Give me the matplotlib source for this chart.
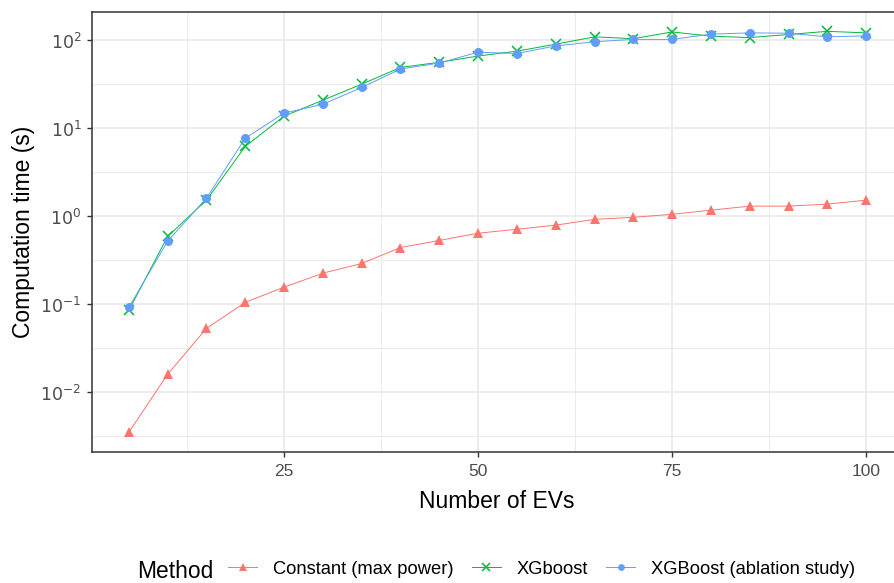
import numpy as np
import matplotlib.pyplot as plt
from matplotlib.ticker import FixedLocator, NullFormatter

plt.rcParams['font.family'] = ['Liberation Sans', 'DejaVu Sans']

# number of EVs
n_evs = [5, 10, 15, 20, 25, 30, 35, 40, 45, 50, 55, 60, 65, 70, 75, 80, 85, 90, 95, 100]

# computation time (s)
t_constant = [0.0035, 0.016, 0.053, 0.105, 0.156, 0.225, 0.29, 0.44, 0.53, 0.64,
              0.71, 0.79, 0.92, 0.97, 1.05, 1.17, 1.30, 1.30, 1.37, 1.52]
t_xgboost = [0.085, 0.59, 1.52, 6.2, 13.7, 20.8, 31.6, 49, 56, 66,
             75, 90, 109, 104, 124, 111, 107, 116, 126, 121]
t_ablation = [0.092, 0.52, 1.6, 7.7, 14.8, 18.7, 29, 47, 55, 73,
              70.5, 86, 96, 102, 102, 117, 121, 120, 109, 112]

labels = ['Constant (max power)', 'XGboost', 'XGBoost (ablation study)']
colors = ['#F8766D', '#00BA38', '#619CFF']

fig = plt.figure(figsize=(8.94, 5.83), dpi=100)
ax = fig.add_axes([92/894, 131/583, 811/894, 440/583])

ax.plot(n_evs, t_constant, color=colors[0], lw=0.7, marker='^', ms=7, mew=0, label=labels[0])
ax.plot(n_evs, t_xgboost, color=colors[1], lw=0.7, marker='x', ms=7, mew=1.1, label=labels[1])
ax.plot(n_evs, t_ablation, color=colors[2], lw=0.7, marker='o', ms=6.5, mew=0, label=labels[2])

ax.set_yscale('log')
ax.set_xlim(0.25, 104.75)
ax.set_ylim(10**-2.68, 10**2.32)

# grid like theme_bw
ax.set_xticks([25, 50, 75, 100])
ax.xaxis.set_minor_locator(FixedLocator([12.5, 37.5, 62.5, 87.5]))
ax.set_yticks([1e-2, 1e-1, 1, 10, 100])
ax.set_yticklabels([r'$10^{-2}$', r'$10^{-1}$', r'$10^{0}$', r'$10^{1}$', r'$10^{2}$'])
ax.yaxis.set_minor_locator(FixedLocator(10 ** (np.arange(-3, 3) + 0.5)))
ax.yaxis.set_minor_formatter(NullFormatter())
ax.grid(which='major', color='#EBEBEB', lw=1.3)
ax.grid(which='minor', color='#EBEBEB', lw=0.7)
ax.set_axisbelow(True)
ax.tick_params(which='major', length=3.6, width=1, color='#333333', labelcolor='#4D4D4D',
               labelsize=12.5)
ax.tick_params(axis='x', pad=5)
ax.tick_params(axis='y', pad=4)
ax.tick_params(which='minor', length=0)
for s in ax.spines.values():
    s.set_color('#333333')
    s.set_linewidth(1.1)

ax.set_xlabel('Number of EVs', fontsize=16.5)
ax.set_ylabel('Computation time (s)', fontsize=16.5)
ax.xaxis.set_label_coords((497 - 92) / 811, (452 - 490) / 440)
ax.yaxis.set_label_coords((35 - 92) / 811, 0.5)

fig.text(137/894, 1 - 571/583, 'Method', fontsize=16.4, va='center', ha='left')
fig.legend(loc='center left', bbox_to_anchor=(221/894, 1 - 569/583), ncol=3, frameon=False,
           fontsize=13.2, handlelength=1.58, columnspacing=0.98, handletextpad=0.87,
           markerscale=0.75, borderaxespad=0)

fig.savefig('out.png', dpi=100)
